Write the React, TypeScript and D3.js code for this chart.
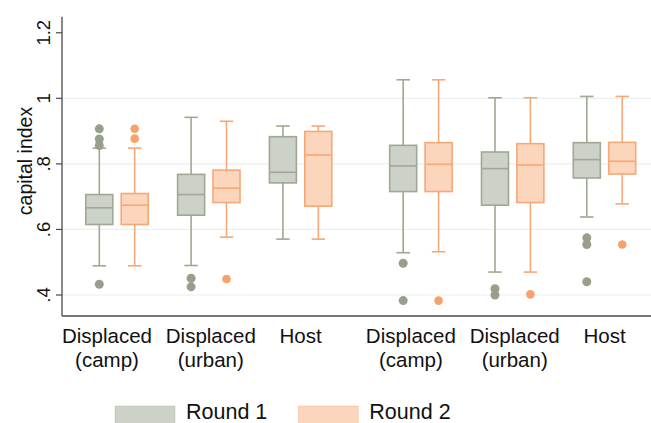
import React from "react";
import * as d3 from "d3";

// ---- data ----
const categoryLines: string[][] = [
  ["Displaced", "(camp)"],
  ["Displaced", "(urban)"],
  ["Host"],
  ["Displaced", "(camp)"],
  ["Displaced", "(urban)"],
  ["Host"],
];
const yTicks = [0.4, 0.6, 0.8, 1.0, 1.2];
const yTickLabels = [".4", ".6", ".8", "1", "1.2"];
const gridValues = [0.4, 0.6, 0.8, 1.0];
const seriesNames = ["Round 1", "Round 2"];

const r1Lower = [0.489, 0.49, 0.5705, 0.529, 0.47, 0.638];
const r1Q1 = [0.615, 0.6435, 0.742, 0.7156, 0.674, 0.757];
const r1Median = [0.666, 0.7065, 0.7744, 0.7937, 0.7856, 0.813];
const r1Q3 = [0.7065, 0.768, 0.883, 0.8566, 0.8363, 0.8648];
const r1Upper = [0.848, 0.942, 0.9155, 1.0566, 1.0017, 1.0058];
const r1Outliers = [
  [0.907, 0.876, 0.856, 0.433],
  [0.451, 0.425],
  [],
  [0.497, 0.383],
  [0.419, 0.4],
  [0.5745, 0.554, 0.4405],
];

const r2Lower = [0.489, 0.5766, 0.5705, 0.532, 0.47, 0.678];
const r2Q1 = [0.615, 0.682, 0.671, 0.7156, 0.682, 0.769];
const r2Median = [0.674, 0.7257, 0.827, 0.7988, 0.7967, 0.808];
const r2Q3 = [0.7096, 0.781, 0.899, 0.8648, 0.8617, 0.8657];
const r2Upper = [0.848, 0.93, 0.9155, 1.0566, 1.0017, 1.0058];
const r2Outliers = [[0.907, 0.877], [0.4487], [], [0.383], [0.402], [0.554]];

// ---- styling ----
const W = 651;
const H = 423;
const FONT = "'Liberation Sans', Arial, Helvetica, sans-serif";
const fills = ["#ccd2c7", "#fbd5bc"];
const strokes = ["#a0a893", "#f6a876"];
const dotColors = ["#98a08b", "#f5a26c"];

type Stat = { lo: number; q1: number; med: number; q3: number; hi: number; out: number[] };
const build = (lo: number[], q1: number[], med: number[], q3: number[], hi: number[], out: number[][]): Stat[] =>
  lo.map((_, i) => ({ lo: lo[i], q1: q1[i], med: med[i], q3: q3[i], hi: hi[i], out: out[i] }));

const series: Stat[][] = [
  build(r1Lower, r1Q1, r1Median, r1Q3, r1Upper, r1Outliers),
  build(r2Lower, r2Q1, r2Median, r2Q3, r2Upper, r2Outliers),
];

export default function App() {
  const plotLeft = 62;
  const plotRight = W;
  const axisBottom = 316;
  const axisTop = 16.7;

  const y = d3.scaleLinear().domain([0.336, 1.249]).range([axisBottom, axisTop]);
  const groupGap = 0.31;
  const slot = (k: number) => k + (k >= 3 ? groupGap : 0);
  const x = d3.scaleLinear().domain([0, 5 + groupGap]).range([117, 604.5]);

  const boxW = 27;
  const half = 17.7;
  const capW = 13.5;
  const sw = 1.6;
  const labelShift = [-10, 2, 0];

  return (
    <svg
      width={W}
      height={H}
      style={{ position: "absolute", left: 0, top: 0, background: "#fff" }}
      fontFamily={FONT}
    >
      <rect x={0} y={0} width={W} height={H} fill="#fff" />
      {/* grid */}
      {gridValues.map((v) => (
        <line key={v} x1={plotLeft} x2={plotRight} y1={y(v)} y2={y(v)} stroke="#e9f0f0" strokeWidth={1.2} />
      ))}

      {/* boxes */}
      {series.map((stats, s) =>
        stats.map((d, k) => {
          const cx = x(slot(k)) + (s === 0 ? -half : half);
          return (
            <g key={`${s}-${k}`}>
              <line x1={cx} x2={cx} y1={y(d.q3)} y2={y(d.hi)} stroke={strokes[s]} strokeWidth={sw} />
              <line x1={cx} x2={cx} y1={y(d.q1)} y2={y(d.lo)} stroke={strokes[s]} strokeWidth={sw} />
              <line x1={cx - capW / 2} x2={cx + capW / 2} y1={y(d.hi)} y2={y(d.hi)} stroke={strokes[s]} strokeWidth={sw} />
              <line x1={cx - capW / 2} x2={cx + capW / 2} y1={y(d.lo)} y2={y(d.lo)} stroke={strokes[s]} strokeWidth={sw} />
              <rect
                x={cx - boxW / 2}
                y={y(d.q3)}
                width={boxW}
                height={y(d.q1) - y(d.q3)}
                fill={fills[s]}
                stroke={strokes[s]}
                strokeWidth={sw}
              />
              <line x1={cx - boxW / 2} x2={cx + boxW / 2} y1={y(d.med)} y2={y(d.med)} stroke={strokes[s]} strokeWidth={sw} />
              {d.out.map((o, j) => (
                <circle key={j} cx={cx} cy={y(o)} r={s === 0 ? 4.5 : 4.3} fill={dotColors[s]} />
              ))}
            </g>
          );
        })
      )}

      {/* axes */}
      <line x1={plotLeft} x2={plotLeft} y1={axisTop} y2={axisBottom} stroke="#4a4a4a" strokeWidth={1.3} />
      <line x1={plotLeft} x2={plotRight} y1={axisBottom} y2={axisBottom} stroke="#4a4a4a" strokeWidth={1.3} />
      {yTicks.map((t, i) => (
        <g key={t}>
          <line x1={plotLeft - 6} x2={plotLeft} y1={y(t)} y2={y(t)} stroke="#4a4a4a" strokeWidth={1.2} />
          <text
            transform={`translate(${plotLeft - 12},${y(t)}) rotate(-90)`}
            textAnchor="middle"
            fontSize={18.5}
            fill="#111"
          >
            {yTickLabels[i]}
          </text>
        </g>
      ))}
      <text
        transform={`translate(31.5,161) rotate(-90)`}
        textAnchor="middle"
        fontSize={19.5}
        fill="#111"
      >
        capital index
      </text>

      {/* category labels */}
      {categoryLines.map((lines, k) => (
        <text key={k} textAnchor="middle" fontSize={20.5} fill="#111">
          {lines.map((ln, j) => (
            <tspan key={j} x={x(slot(k)) + labelShift[k % 3]} y={343.3 + j * 23.3}>
              {ln}
            </tspan>
          ))}
        </text>
      ))}

      {/* legend */}
      {seriesNames.map((name, s) => {
        const lx = s === 0 ? 115 : 298.3;
        return (
          <g key={name}>
            <rect x={lx} y={406} width={60} height={20} fill={fills[s]} stroke={strokes[s]} strokeWidth={0.8} strokeOpacity={0.4} />
            <text x={lx + 71} y={418.5} fontSize={21.5} fill="#111">
              {name}
            </text>
          </g>
        );
      })}
    </svg>
  );
}
